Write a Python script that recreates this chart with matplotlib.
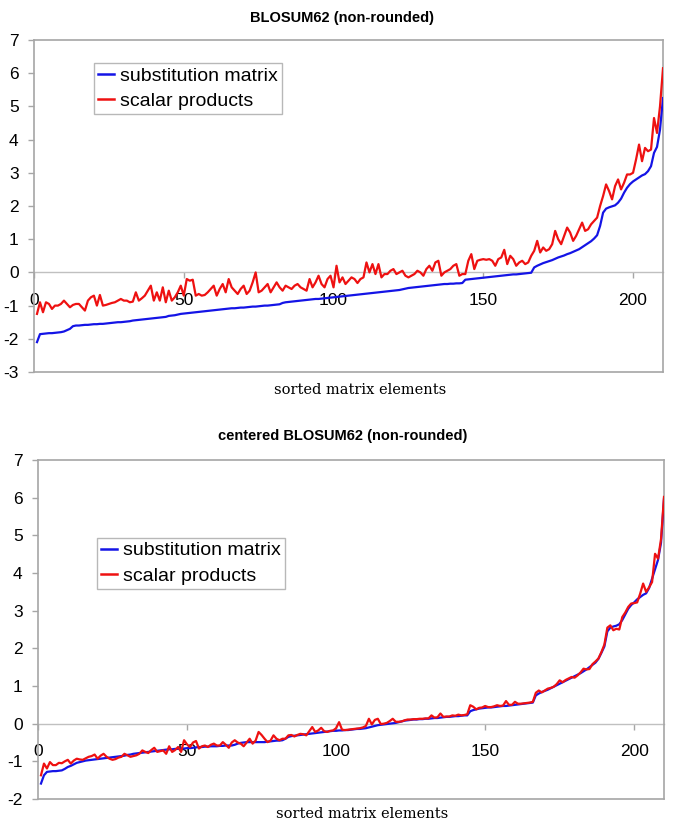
import numpy as np
import matplotlib
matplotlib.use("Agg")
import matplotlib.pyplot as plt

# ---------------- data ----------------
blosum_subst = [
    -2.10, -1.86, -1.85, -1.84, -1.83, -1.83, -1.82, -1.81, -1.80, -1.78,
    -1.74, -1.70, -1.62, -1.60, -1.60, -1.59, -1.58, -1.58, -1.57, -1.56,
    -1.56, -1.55, -1.55, -1.54, -1.53, -1.52, -1.51, -1.50, -1.50, -1.49,
    -1.48, -1.47, -1.45, -1.44, -1.43, -1.42, -1.41, -1.40, -1.39, -1.38,
    -1.37, -1.36, -1.35, -1.34, -1.31, -1.30, -1.29, -1.27, -1.25, -1.24,
    -1.23, -1.22, -1.21, -1.20, -1.19, -1.18, -1.17, -1.16, -1.15, -1.14,
    -1.13, -1.12, -1.11, -1.10, -1.09, -1.08, -1.08, -1.07, -1.06, -1.06,
    -1.05, -1.04, -1.03, -1.03, -1.02, -1.01, -1.00, -1.00, -0.99, -0.98,
    -0.97, -0.96, -0.92, -0.90, -0.89, -0.88, -0.87, -0.86, -0.85, -0.84,
    -0.83, -0.82, -0.81, -0.80, -0.80, -0.79, -0.78, -0.77, -0.76, -0.75,
    -0.74, -0.73, -0.72, -0.71, -0.70, -0.69, -0.68, -0.67, -0.66, -0.65,
    -0.64, -0.63, -0.62, -0.61, -0.60, -0.59, -0.58, -0.57, -0.56, -0.55,
    -0.54, -0.53, -0.51, -0.49, -0.47, -0.46, -0.45, -0.44, -0.43, -0.42,
    -0.41, -0.40, -0.39, -0.38, -0.37, -0.36, -0.35, -0.35, -0.34, -0.34,
    -0.33, -0.33, -0.32, -0.22, -0.21, -0.20, -0.19, -0.18, -0.17, -0.16,
    -0.15, -0.14, -0.13, -0.12, -0.11, -0.10, -0.09, -0.08, -0.07, -0.06,
    -0.06, -0.05, -0.04, -0.03, -0.02, -0.01, 0.15, 0.20, 0.24, 0.28,
    0.31, 0.34, 0.37, 0.41, 0.45, 0.48, 0.51, 0.55, 0.58, 0.62,
    0.66, 0.70, 0.76, 0.82, 0.88, 0.94, 1.02, 1.12, 1.40, 1.80,
    1.92, 1.96, 1.99, 2.02, 2.10, 2.22, 2.40, 2.55, 2.66, 2.74,
    2.80, 2.86, 2.92, 2.96, 3.05, 3.20, 3.60, 3.78, 4.30, 5.25,
]

blosum_scalar = [
    -1.25, -0.90, -1.20, -0.90, -0.95, -1.10, -1.00, -1.00, -0.95, -0.85,
    -0.95, -1.05, -0.98, -0.95, -0.95, -1.05, -1.15, -0.85, -0.75, -0.70,
    -1.00, -0.68, -1.00, -0.98, -0.95, -0.92, -0.90, -0.85, -0.80, -0.85,
    -0.85, -0.90, -0.88, -0.60, -0.85, -0.78, -0.70, -0.55, -0.40, -0.85,
    -0.60, -0.85, -0.45, -0.90, -0.55, -0.85, -0.75, -0.60, -0.40, -0.70,
    -0.20, -0.25, -0.22, -0.70, -0.65, -0.70, -0.68, -0.60, -0.50, -0.40,
    -0.70, -0.50, -0.35, -0.60, -0.20, -0.45, -0.55, -0.65, -0.50, -0.40,
    -0.65, -0.55, -0.30, 0.00, -0.60, -0.55, -0.45, -0.35, -0.60, -0.45,
    -0.30, -0.45, -0.55, -0.40, -0.45, -0.50, -0.40, -0.35, -0.45, -0.50,
    -0.55, -0.20, -0.45, -0.30, -0.10, -0.35, -0.45, -0.20, -0.10, -0.45,
    0.20, -0.30, -0.15, -0.35, -0.25, -0.15, -0.20, -0.32, -0.20, -0.15,
    0.30, 0.00, 0.25, -0.05, 0.25, -0.15, -0.05, -0.05, 0.05, 0.10,
    -0.05, 0.00, 0.05, -0.10, -0.15, -0.10, -0.05, 0.05, 0.00, -0.10,
    0.10, 0.20, 0.05, 0.30, 0.35, -0.10, 0.00, 0.05, 0.10, 0.20,
    0.25, -0.10, -0.05, -0.05, 0.35, 0.55, 0.10, 0.35, 0.38, 0.40,
    0.38, 0.40, 0.35, 0.20, 0.40, 0.45, 0.68, 0.25, 0.50, 0.40,
    0.20, 0.30, 0.35, 0.25, 0.30, 0.50, 0.65, 0.95, 0.60, 0.75,
    0.65, 0.70, 0.85, 1.25, 1.00, 0.85, 1.10, 1.35, 1.20, 0.95,
    1.10, 1.30, 1.50, 1.25, 1.30, 1.45, 1.55, 1.65, 2.00, 2.30,
    2.65, 2.45, 2.20, 2.60, 2.80, 2.50, 2.70, 2.95, 2.95, 3.00,
    3.40, 3.85, 3.35, 3.75, 3.65, 3.70, 4.65, 4.20, 5.00, 6.15,
]

centered_subst = [
    -1.59, -1.37, -1.28, -1.27, -1.26, -1.26, -1.25, -1.24, -1.20, -1.15,
    -1.12, -1.08, -1.04, -1.02, -1.00, -0.98, -0.97, -0.96, -0.95, -0.94,
    -0.93, -0.92, -0.91, -0.90, -0.89, -0.88, -0.87, -0.86, -0.85, -0.83,
    -0.82, -0.80, -0.79, -0.78, -0.77, -0.76, -0.75, -0.74, -0.73, -0.72,
    -0.71, -0.70, -0.69, -0.68, -0.68, -0.67, -0.67, -0.66, -0.66, -0.65,
    -0.65, -0.64, -0.63, -0.62, -0.62, -0.61, -0.61, -0.60, -0.60, -0.60,
    -0.59, -0.59, -0.58, -0.58, -0.58, -0.56, -0.53, -0.51, -0.50, -0.49,
    -0.49, -0.49, -0.49, -0.49, -0.49, -0.49, -0.48, -0.47, -0.46, -0.45,
    -0.45, -0.44, -0.40, -0.35, -0.33, -0.32, -0.31, -0.30, -0.29, -0.28,
    -0.27, -0.26, -0.25, -0.24, -0.23, -0.22, -0.21, -0.20, -0.19, -0.19,
    -0.18, -0.18, -0.17, -0.17, -0.16, -0.15, -0.14, -0.14, -0.13, -0.12,
    -0.10, -0.08, -0.06, -0.04, -0.03, -0.02, -0.01, 0.00, 0.01, 0.02,
    0.04, 0.06, 0.08, 0.09, 0.10, 0.11, 0.11, 0.12, 0.12, 0.13,
    0.13, 0.14, 0.15, 0.15, 0.16, 0.17, 0.18, 0.18, 0.19, 0.20,
    0.20, 0.21, 0.22, 0.22, 0.33, 0.36, 0.38, 0.40, 0.41, 0.42,
    0.43, 0.43, 0.44, 0.45, 0.46, 0.47, 0.47, 0.48, 0.49, 0.50,
    0.51, 0.52, 0.53, 0.54, 0.55, 0.56, 0.75, 0.80, 0.84, 0.87,
    0.90, 0.94, 0.98, 1.02, 1.06, 1.10, 1.14, 1.18, 1.22, 1.26,
    1.30, 1.34, 1.39, 1.44, 1.50, 1.56, 1.62, 1.72, 1.88, 2.05,
    2.45, 2.55, 2.58, 2.60, 2.64, 2.75, 2.90, 3.05, 3.15, 3.22,
    3.30, 3.36, 3.42, 3.46, 3.60, 3.85, 4.10, 4.35, 4.80, 5.97,
]

centered_scalar = [
    -1.37, -1.06, -1.19, -1.02, -1.10, -1.10, -1.04, -1.05, -1.00, -0.96,
    -1.06, -0.98, -0.93, -0.95, -0.96, -0.92, -0.88, -0.86, -0.82, -0.93,
    -0.85, -0.80, -0.88, -0.93, -0.96, -0.94, -0.90, -0.88, -0.80, -0.84,
    -0.88, -0.86, -0.84, -0.80, -0.71, -0.75, -0.78, -0.70, -0.64, -0.75,
    -0.73, -0.71, -0.80, -0.60, -0.75, -0.70, -0.62, -0.75, -0.44, -0.55,
    -0.62, -0.50, -0.46, -0.66, -0.60, -0.58, -0.62, -0.56, -0.53, -0.58,
    -0.58, -0.49, -0.56, -0.64, -0.50, -0.44, -0.50, -0.53, -0.60, -0.50,
    -0.40, -0.53, -0.45, -0.22, -0.30, -0.40, -0.49, -0.45, -0.31, -0.40,
    -0.44, -0.40, -0.40, -0.31, -0.30, -0.34, -0.30, -0.27, -0.28, -0.31,
    -0.20, -0.09, -0.22, -0.18, -0.11, -0.20, -0.22, -0.19, -0.18, -0.12,
    0.04, -0.16, -0.17, -0.16, -0.15, -0.14, -0.13, -0.12, -0.10, -0.06,
    0.13, -0.02, 0.10, 0.13, -0.01, 0.00, 0.02, 0.07, 0.13, 0.05,
    0.05, 0.06, 0.09, 0.11, 0.11, 0.12, 0.12, 0.13, 0.13, 0.14,
    0.14, 0.22, 0.16, 0.17, 0.27, 0.18, 0.19, 0.19, 0.22, 0.21,
    0.24, 0.22, 0.23, 0.25, 0.49, 0.45, 0.38, 0.42, 0.43, 0.47,
    0.44, 0.44, 0.46, 0.49, 0.47, 0.48, 0.60, 0.50, 0.50, 0.58,
    0.53, 0.53, 0.54, 0.55, 0.56, 0.58, 0.82, 0.88, 0.83, 0.88,
    0.93, 0.95, 0.98, 1.05, 1.15, 1.10, 1.16, 1.20, 1.24, 1.22,
    1.28, 1.36, 1.46, 1.44, 1.45, 1.58, 1.65, 1.73, 1.90, 2.10,
    2.55, 2.61, 2.48, 2.52, 2.50, 2.83, 2.95, 3.10, 3.19, 3.20,
    3.22, 3.45, 3.72, 3.50, 3.62, 3.76, 4.51, 4.38, 4.90, 6.02,
]

series_labels = ["substitution matrix", "scalar products"]
titles = ["BLOSUM62 (non-rounded)", "centered BLOSUM62 (non-rounded)"]
x_label = "sorted matrix elements"
x_ticks = [0, 50, 100, 150, 200]
y_ticks_top = [-3, -2, -1, 0, 1, 2, 3, 4, 5, 6, 7]
y_ticks_bottom = [-2, -1, 0, 1, 2, 3, 4, 5, 6, 7]

# ---------------- style ----------------
BLUE = "#1414e6"
RED = "#ee1111"
GRAY = "#a6a6a6"
SANS = "Liberation Sans"

fig = plt.figure(figsize=(6.85, 8.25), dpi=100)

panels = [
    dict(rect=[34/685, 1-372/825, 629/685, 332/825], ylim=(-3, 7), yt=y_ticks_top,
         sub=blosum_subst, sca=blosum_scalar, title=titles[0],
         leg=(0.0954, 0.9307), title_y=1-18/825, xl_y=390/825, xl_x=360/685),
    dict(rect=[38/685, 1-799/825, 626/685, 339/825], ylim=(-2, 7), yt=y_ticks_bottom,
         sub=centered_subst, sca=centered_scalar, title=titles[1],
         leg=(0.094, 0.77), title_y=1-436/825, xl_y=814/825, xl_x=362/685),
]

for p in panels:
    ax = fig.add_axes(p["rect"])
    x = np.arange(1, len(p["sub"]) + 1)
    ax.plot(x, p["sub"], color=BLUE, lw=1.6, label=series_labels[0], zorder=3)
    ax.plot(x, p["sca"], color=RED, lw=1.6, label=series_labels[1], zorder=4)
    ax.set_xlim(0, 210)
    ax.set_ylim(*p["ylim"])
    ax.set_yticks(p["yt"])
    ax.set_yticklabels([str(v) for v in p["yt"]], fontsize=12.5, family=SANS)
    ax.tick_params(axis="y", direction="out", length=4, width=1, color=GRAY, pad=7)
    ax.set_xticks([])
    for s in ax.spines.values():
        s.set_color(GRAY)
        s.set_linewidth(1.2)

    # horizontal category axis crossing at y = 0
    y0, y1 = p["ylim"]
    sec = ax.secondary_xaxis((0 - y0) / (y1 - y0))
    sec.set_xticks(x_ticks)
    sec.set_xticklabels([str(v) for v in x_ticks], fontsize=12.5, family=SANS)
    sec.tick_params(axis="x", direction="out", length=4, width=1, color=GRAY, pad=11)
    sec.spines["bottom"].set_color("#c0c0c0")
    sec.spines["bottom"].set_linewidth(1.0)

    leg = ax.legend(loc="upper left", bbox_to_anchor=p["leg"],
                    prop={"family": SANS, "size": 14},
                    frameon=True, fancybox=False, shadow=False,
                    handlelength=0.85, handletextpad=0.3, borderpad=0.2,
                    labelspacing=0.4, borderaxespad=0.0)
    leg.get_frame().set_edgecolor(GRAY)
    leg.get_frame().set_linewidth(1.0)
    for h in leg.get_lines():
        h.set_linewidth(1.8)

    fig.text(0.5, p["title_y"], p["title"], ha="center", va="center",
             fontsize=10.5, fontweight="bold", family=SANS)
    fig.text(p["xl_x"], 1 - p["xl_y"], x_label, ha="center", va="center",
             fontsize=10.5, family="DejaVu Serif")

fig.savefig("out.png", dpi=100)
